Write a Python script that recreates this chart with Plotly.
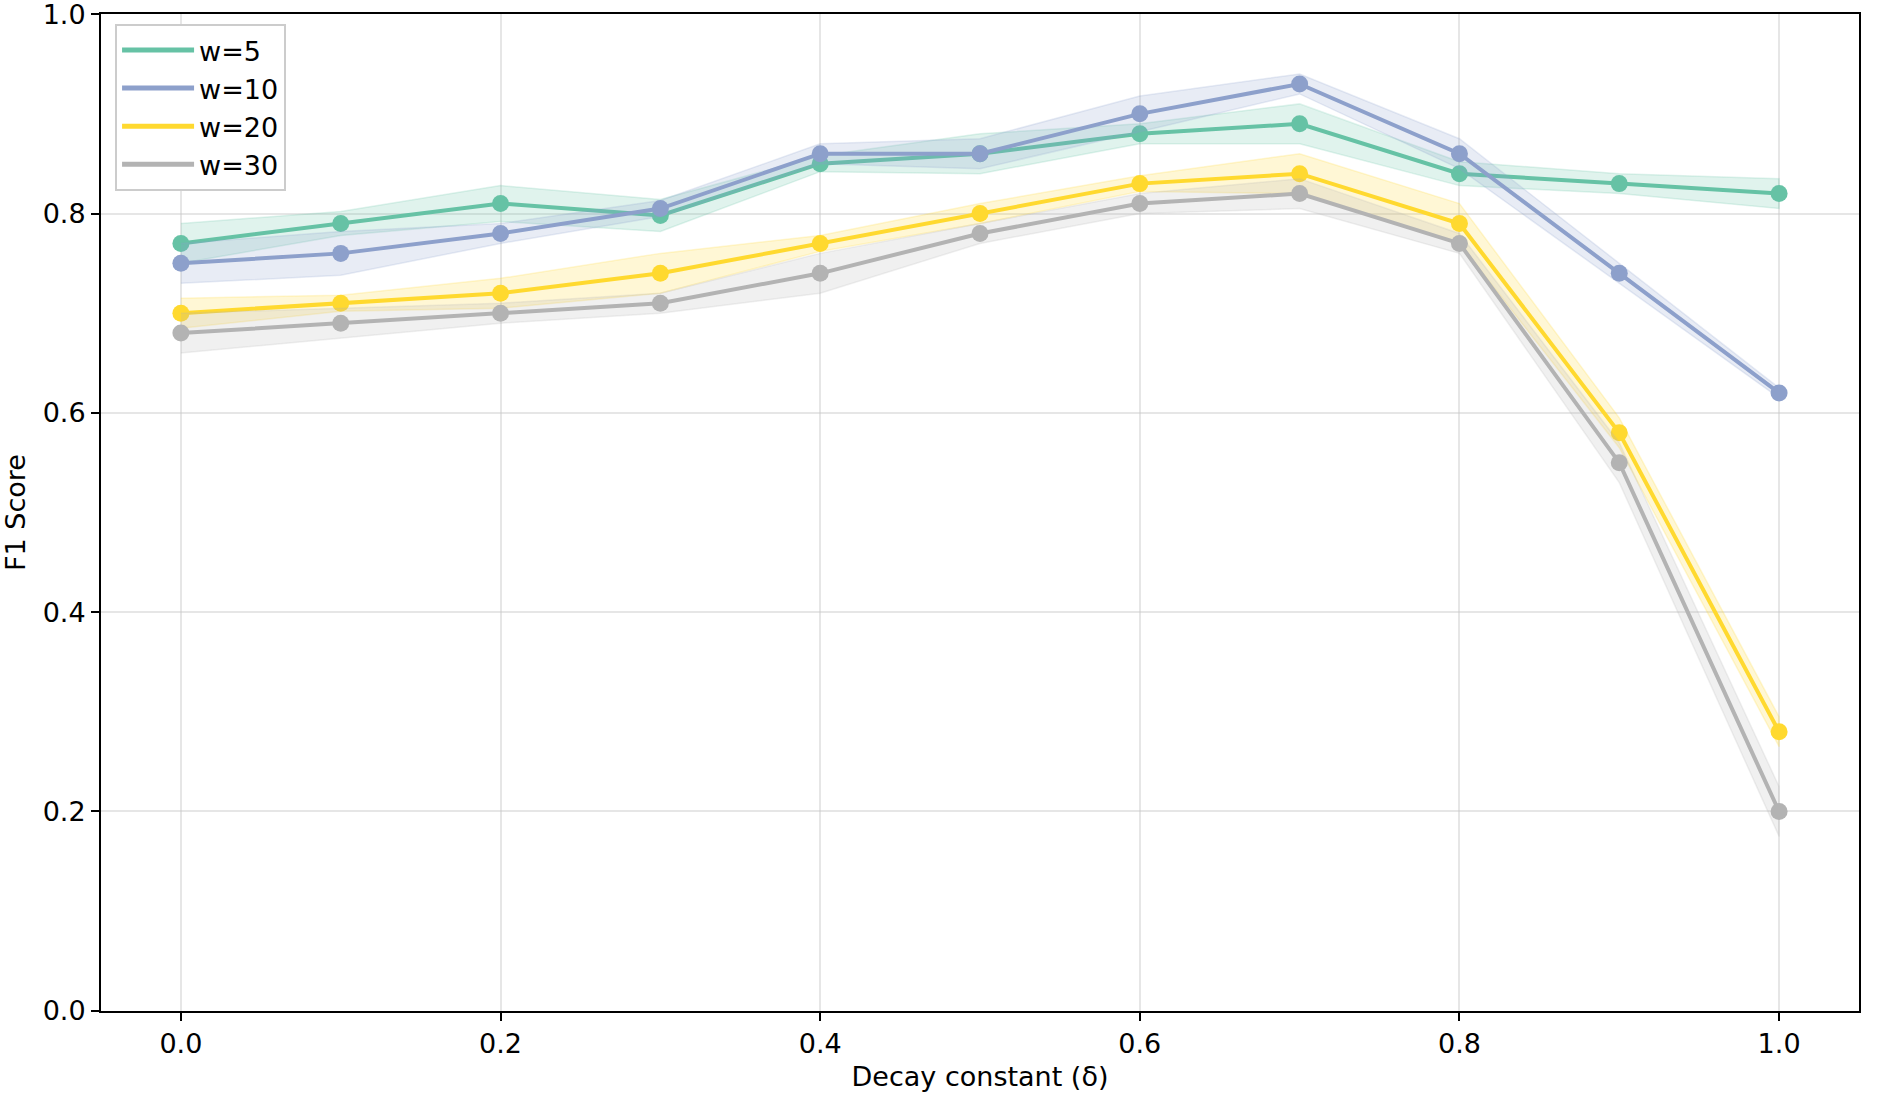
import plotly.graph_objects as go

x_vals = [0.0, 0.1, 0.2, 0.3, 0.4, 0.5, 0.6, 0.7, 0.8, 0.9, 1.0]

series_names = ["w=5", "w=10", "w=20", "w=30"]

f1_w5 = [0.77, 0.79, 0.81, 0.798, 0.85, 0.86, 0.88, 0.89, 0.84, 0.83, 0.82]
f1_w10 = [0.75, 0.76, 0.78, 0.805, 0.86, 0.86, 0.90, 0.93, 0.86, 0.74, 0.62]
f1_w20 = [0.70, 0.71, 0.72, 0.74, 0.77, 0.80, 0.83, 0.84, 0.79, 0.58, 0.28]
f1_w30 = [0.68, 0.69, 0.70, 0.71, 0.74, 0.78, 0.81, 0.82, 0.77, 0.55, 0.20]

std_w5 = [0.020, 0.012, 0.018, 0.016, 0.008, 0.020, 0.010, 0.020, 0.012, 0.010, 0.015]
std_w10 = [0.020, 0.022, 0.010, 0.008, 0.010, 0.015, 0.018, 0.010, 0.015, 0.010, 0.005]
std_w20 = [0.015, 0.008, 0.015, 0.020, 0.008, 0.010, 0.008, 0.020, 0.020, 0.015, 0.015]
std_w30 = [0.020, 0.015, 0.010, 0.010, 0.020, 0.010, 0.010, 0.015, 0.010, 0.020, 0.025]

colors = ["#66c2a5", "#8da0cb", "#ffd92f", "#b3b3b3"]
fill_colors = ["rgba(102,194,165,0.2)", "rgba(141,160,203,0.2)",
               "rgba(255,217,47,0.2)", "rgba(179,179,179,0.2)"]

x_ticks = [0.0, 0.2, 0.4, 0.6, 0.8, 1.0]
x_tick_labels = ["0.0", "0.2", "0.4", "0.6", "0.8", "1.0"]
y_ticks = [0.0, 0.2, 0.4, 0.6, 0.8, 1.0]
y_tick_labels = ["0.0", "0.2", "0.4", "0.6", "0.8", "1.0"]

means = [f1_w5, f1_w10, f1_w20, f1_w30]
stds = [std_w5, std_w10, std_w20, std_w30]

fig = go.Figure()

for name, m, s, c, fc in zip(series_names, means, stds, colors, fill_colors):
    upper = [a + b for a, b in zip(m, s)]
    lower = [a - b for a, b in zip(m, s)]
    fig.add_trace(go.Scatter(
        x=x_vals + x_vals[::-1], y=upper + lower[::-1],
        fill="toself", fillcolor=fc, mode="lines",
        line=dict(color=fc, width=1.5), hoverinfo="skip", showlegend=False))
    fig.add_trace(go.Scatter(
        x=x_vals, y=m, mode="lines+markers", name=name,
        line=dict(color=c, width=4), marker=dict(color=c, size=17),
        showlegend=False))

# legend-only entries (lines without markers)
for name, c in zip(series_names, colors):
    fig.add_trace(go.Scatter(x=[None], y=[None], mode="lines", name=name,
                             line=dict(color=c, width=5)))

axis_common = dict(
    showline=True, linecolor="black", linewidth=2, mirror=True,
    ticks="outside", ticklen=8, tickwidth=2, tickcolor="black",
    showgrid=True, gridcolor="rgba(200,200,200,0.45)", gridwidth=2,
    zeroline=False, tickfont=dict(size=27, color="black"),
    ticklabeloverflow="allow", automargin=False,
)

fig.update_layout(
    width=1882, height=1096,
    margin=dict(l=101, r=23, t=14, b=85),
    paper_bgcolor="white", plot_bgcolor="white",
    font=dict(family="DejaVu Sans", color="black"),
    xaxis=dict(range=[-0.05, 1.05], tickvals=x_ticks, ticktext=x_tick_labels,
               title=dict(text="Decay constant (δ)", font=dict(size=27), standoff=9),
               **axis_common),
    yaxis=dict(range=[-0.0002, 1.0002], tickvals=y_ticks, ticktext=y_tick_labels,
               title=dict(text="F1 Score", font=dict(size=27), standoff=12),
               **axis_common),
    legend=dict(x=0.008, y=0.99, xanchor="left", yanchor="top",
                bgcolor="white", bordercolor="#cccccc", borderwidth=2,
                font=dict(size=27), itemwidth=72, tracegroupgap=0),
)

fig.write_html("out.html", config={"displayModeBar": False},
               post_script="document.body.style.margin='0';document.body.style.overflow='hidden';")
